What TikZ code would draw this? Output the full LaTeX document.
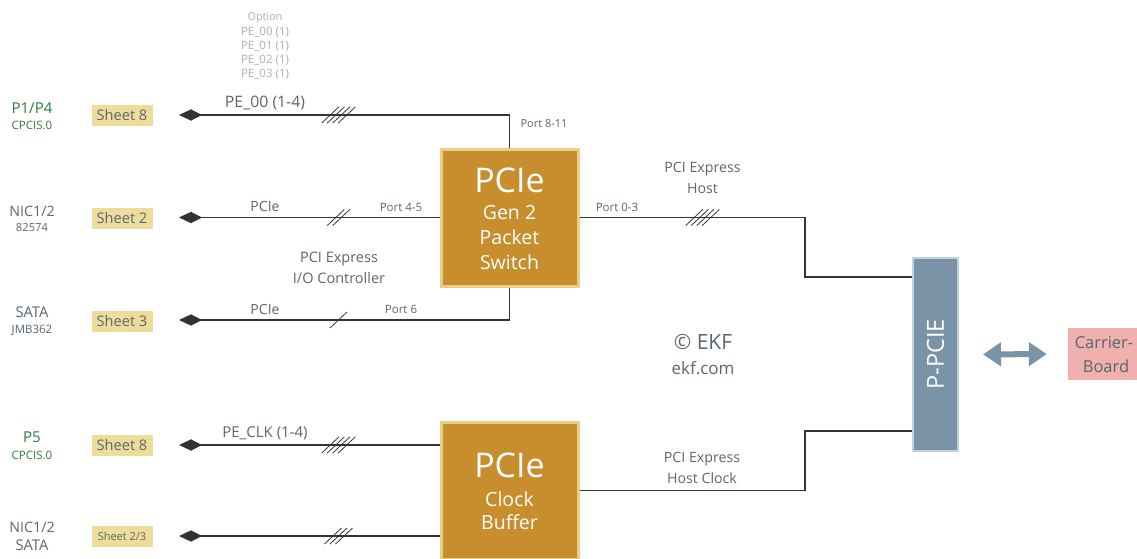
\documentclass[tikz,border=0pt]{standalone}
\usepackage{fontspec}
\setmainfont{Open Sans}
\usetikzlibrary{arrows.meta}
\definecolor{txt}{HTML}{5B6670}
\definecolor{grn}{HTML}{2F7A3B}
\definecolor{gold}{HTML}{C88E2E}
\definecolor{goldb}{HTML}{E9CE86}
\definecolor{sheetc}{HTML}{EEDC9B}
\definecolor{slate}{HTML}{7B93A6}
\definecolor{slateb}{HTML}{BCD3E0}
\definecolor{pinkc}{HTML}{EFB0AE}
\definecolor{optg}{HTML}{A9AEB3}
\definecolor{wirec}{HTML}{333333}
\tikzset{
  fs/.style={font=\fontsize{#1}{#1}\selectfont},
  lbl/.style={text=txt, inner sep=0pt, align=center},
  grnlbl/.style={text=grn, inner sep=0pt, align=center},
  sheetbox/.style={fill=sheetc, text=txt, minimum width=61pt, minimum height=21pt, inner sep=0pt},
  chip/.style={fill=gold, draw=goldb, line width=3pt, minimum width=137pt, minimum height=137pt, inner sep=0pt},
  chiptxt/.style={text=white, inner sep=0pt},
  wire/.style={draw=wirec, line width=1.1pt},
  dtip/.style={{Triangle[length=12pt,width=11pt,sep=1pt]Triangle[reversed,length=11pt,width=11pt]}-},
  hash/.style={draw=wirec, line width=0.8pt}
}
\newcommand\hashmarks[3]{%
  \foreach \i in {1,...,#3}{%
    \draw[hash] ({#1+(\i-(#3+1)/2)*5.5-8.5},{#2+8}) -- ++(17,-16);
  }%
}
\begin{document}
\begin{tikzpicture}[x=1pt,y=-1pt]
\useasboundingbox (0,0) rectangle (1137,559);

% chips
\node[chip] (sw) at (509.5,217.5) {};
\node[chip] (cb) at (509.5,490.5) {};
\node[fill=slate, draw=slateb, line width=2pt, minimum width=45pt, minimum height=193pt, inner sep=0pt] (pp) at (935.5,354.5) {};
\node[fill=pinkc, minimum width=70pt, minimum height=52pt, inner sep=0pt] (cr) at (1103,354) {};

% chip texts
\node[chiptxt, fs=34] at (509.5,180) {PCIe};
\node[chiptxt, fs=19.5] at (509.5,213) {Gen 2};
\node[chiptxt, fs=19.5] at (509.5,237) {Packet};
\node[chiptxt, fs=19.5] at (509.5,262) {Switch};
\node[chiptxt, fs=34] at (509.5,465) {PCIe};
\node[chiptxt, fs=19.5] at (509.5,499) {Clock};
\node[chiptxt, fs=19.5] at (509.5,522) {Buffer};
\node[chiptxt, fs=23.5, rotate=90] at (pp.center) {P-PCIE};
\node[lbl, fs=16.5] at (1104,343) {Carrier-};
\node[lbl, fs=16.5] at (1106,366) {Board};

% left labels
\node[grnlbl, fs=15] (p1) at (32,108) {P1/P4};
\node[grnlbl, fs=11.5] at (32,125) {CPCIS.0};
\node[lbl, fs=14.3] at (32,211) {NIC1/2};
\node[lbl, fs=11.2] at (32,227) {82574};
\node[lbl, fs=14.8] at (32,312) {SATA};
\node[lbl, fs=11.5] at (32,330) {JMB362};
\node[grnlbl, fs=15] at (32,437) {P5};
\node[grnlbl, fs=11.5] at (32,455) {CPCIS.0};
\node[lbl, fs=14.3] at (32,527) {NIC1/2};
\node[lbl, fs=14.8] at (32,545) {SATA};

% sheets
\node[sheetbox, fs=14.6] (s1) at (122,115.5) {Sheet 8};
\node[sheetbox, fs=14.6] (s2) at (122,218) {Sheet 2};
\node[sheetbox, fs=14.6] (s3) at (122,321) {Sheet 3};
\node[sheetbox, fs=14.6] (s4) at (122,445.5) {Sheet 8};
\node[sheetbox, fs=11] (s5) at (122,536.5) {Sheet 2/3};

% wire ends
\coordinate (l1) at (178,115);
\coordinate (l2) at (178,217.5);
\coordinate (l3) at (178,320);
\coordinate (l4) at (178,445);
\coordinate (l5) at (178,536);
\coordinate (j1) at (805,277);
\coordinate (j2) at (805,431);

\draw[wire,dtip] (l1) -| (sw.north);
\draw[wire,dtip] (l2) -- (sw.west);
\draw[wire,dtip] (l3) -| (sw.south);
\draw[wire,dtip] (l4) -- (l4 -| cb.west);
\draw[wire,dtip] (l5) -- (l5 -| cb.west);
\draw[wire] (sw.east) -| (j1) -- (j1 -| pp.west);
\draw[wire] (cb.east) -| (j2) -- (j2 -| pp.west);

\draw[slate, line width=6pt, {Triangle[length=18pt,width=23pt]}-{Triangle[length=18pt,width=23pt]}, shorten <=24pt, shorten >=21pt] (pp.east) -- (cr.west);

% hash marks
\hashmarks{338.5}{115}{4}
\hashmarks{338.5}{217.5}{2}
\hashmarks{338.5}{320}{1}
\hashmarks{702.5}{217.5}{4}
\hashmarks{338.5}{445}{4}
\hashmarks{338.5}{536}{3}

% wire labels
\node[text=optg, inner sep=0pt, fs=10.8] at (265,18) {Option};
\node[text=optg, inner sep=0pt, fs=11.5] at (265,32) {PE\_00 (1)};
\node[text=optg, inner sep=0pt, fs=11.5] at (265,46) {PE\_01 (1)};
\node[text=optg, inner sep=0pt, fs=11.5] at (265,60) {PE\_02 (1)};
\node[text=optg, inner sep=0pt, fs=11.5] at (265,74) {PE\_03 (1)};
\node[lbl, fs=15.8] at (265,103) {PE\_00 (1-4)};
\node[lbl, fs=11] at (544,124) {Port 8-11};
\node[lbl, fs=14] at (265,206) {PCIe};
\node[lbl, fs=11.5] at (401,207) {Port 4-5};
\node[lbl, fs=14.5] at (339,259) {PCI Express};
\node[lbl, fs=14.5] at (339,278) {I/O Controller};
\node[lbl, fs=14] at (265,309) {PCIe};
\node[lbl, fs=11.5] at (401,309) {Port 6};
\node[lbl, fs=11.5] at (617,207) {Port 0-3};
\node[lbl, fs=14.2] at (702.5,169) {PCI Express};
\node[lbl, fs=14.2] at (702.5,188) {Host};
\node[lbl, fs=21] at (703,342) {© EKF};
\node[lbl, fs=17] at (703,368) {ekf.com};
\node[lbl, fs=15] at (265,433) {PE\_CLK (1-4)};
\node[lbl, fs=14.2] at (702,459) {PCI Express};
\node[lbl, fs=14.2] at (702,478) {Host Clock};
\end{tikzpicture}
\end{document}
